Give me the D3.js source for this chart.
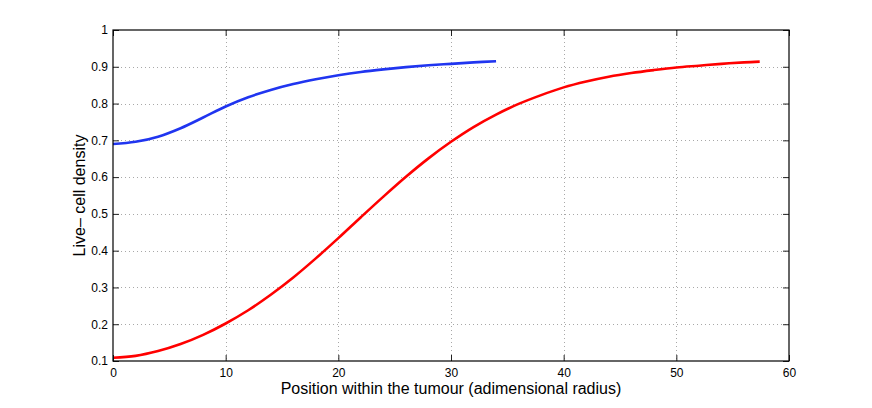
<!DOCTYPE html>
<html>
<head>
<meta charset="utf-8">
<script src="https://cdn.jsdelivr.net/npm/d3@7"></script>
<style>
  body { margin: 0; background: #fff; }
  text { font-family: "Liberation Sans", Arial, sans-serif; fill: #000; }
</style>
</head>
<body>
<script>
// curve values
var blueX = [0, 2, 4, 6, 8, 10, 12, 14, 16, 18, 20, 22, 24, 26, 28, 30, 32, 34];
var blueY = [0.690, 0.696, 0.710, 0.733, 0.762, 0.792, 0.817, 0.837, 0.853, 0.866,
             0.877, 0.886, 0.893, 0.899, 0.904, 0.908, 0.912, 0.915];

var redX = [0, 2, 4, 6, 8, 10, 12, 14, 16, 18, 20, 22, 24, 26, 28, 30, 32, 34, 36, 38,
            40, 42, 44, 46, 48, 50, 52, 54, 56, 57.4];
var redY = [0.109, 0.114, 0.127, 0.146, 0.171, 0.202, 0.238, 0.280, 0.327, 0.379,
            0.434, 0.491, 0.547, 0.601, 0.651, 0.696, 0.736, 0.770, 0.799, 0.823,
            0.844, 0.860, 0.873, 0.883, 0.891, 0.898, 0.903, 0.908, 0.912, 0.914];

var xTicks = [0, 10, 20, 30, 40, 50, 60];
var yTicks = [0.1, 0.2, 0.3, 0.4, 0.5, 0.6, 0.7, 0.8, 0.9, 1];

var width = 872, height = 408;
// plot box (note: "top" is taken by window.top)
var boxL = 113, boxR = 789, boxT = 30, boxB = 361;

var svg = d3.select("body").append("svg")
    .attr("width", width)
    .attr("height", height);

var x = d3.scaleLinear().domain([0, 60]).range([boxL, boxR]);
var y = d3.scaleLinear().domain([0.1, 1]).range([boxB, boxT]);

// dotted grid
var grid = svg.append("g");
grid.selectAll(".gx").data(xTicks.slice(1, -1)).enter().append("line")
    .attr("x1", function(d) { return Math.round(x(d)) + 0.5; })
    .attr("x2", function(d) { return Math.round(x(d)) + 0.5; })
    .attr("y1", boxT).attr("y2", boxB);
grid.selectAll(".gy").data(yTicks.slice(1, -1)).enter().append("line")
    .attr("y1", function(d) { return Math.round(y(d)) + 0.5; })
    .attr("y2", function(d) { return Math.round(y(d)) + 0.5; })
    .attr("x1", boxL).attr("x2", boxR);
grid.selectAll("line")
    .attr("stroke", "#a8a8a8")
    .attr("stroke-width", 1)
    .attr("stroke-dasharray", "1,3");

// curves
var line = d3.line()
    .x(function(d) { return x(d[0]); })
    .y(function(d) { return y(d[1]); })
    .curve(d3.curveCatmullRom);

svg.append("path")
    .datum(d3.zip(blueX, blueY))
    .attr("d", line)
    .attr("fill", "none")
    .attr("stroke", "#2035f0")
    .attr("stroke-width", 2.6);

svg.append("path")
    .datum(d3.zip(redX, redY))
    .attr("d", line)
    .attr("fill", "none")
    .attr("stroke", "#ff0000")
    .attr("stroke-width", 2.6);

// axes, ticks inward on all four sides
var tl = 6;
svg.append("g")
    .attr("transform", "translate(0," + boxB + ")")
    .call(d3.axisBottom(x).tickValues(xTicks).tickSize(-tl).tickPadding(7).tickFormat(d3.format("d")));
svg.append("g")
    .attr("transform", "translate(0," + boxT + ")")
    .call(d3.axisTop(x).tickValues(xTicks).tickSize(-tl).tickFormat(""));
svg.append("g")
    .attr("transform", "translate(" + boxL + ",0)")
    .call(d3.axisLeft(y).tickValues(yTicks).tickSize(-tl).tickPadding(5).tickFormat(function(d) { return d3.format("~g")(d); }));
svg.append("g")
    .attr("transform", "translate(" + boxR + ",0)")
    .call(d3.axisRight(y).tickValues(yTicks).tickSize(-tl).tickFormat(""));

svg.selectAll(".domain").remove();
svg.selectAll(".tick line").attr("stroke", "#222");
svg.selectAll(".tick text")
    .style("font-family", "'Liberation Sans', Arial, sans-serif")
    .style("font-size", "12px")
    .attr("fill", "#000");

svg.append("rect")
    .attr("x", boxL).attr("y", boxT)
    .attr("width", boxR - boxL).attr("height", boxB - boxT)
    .attr("fill", "none")
    .attr("stroke", "#000")
    .attr("stroke-width", 1.2);

// labels
svg.append("text")
    .attr("x", (boxL + boxR) / 2)
    .attr("y", 394)
    .attr("text-anchor", "middle")
    .style("font-size", "16px")
    .text("Position within the tumour (adimensional radius)");

svg.append("text")
    .attr("transform", "translate(85," + ((boxT + boxB) / 2) + ") rotate(-90)")
    .attr("text-anchor", "middle")
    .style("font-size", "16px")
    .text("Live\u2013 cell density");
</script>
</body>
</html>
